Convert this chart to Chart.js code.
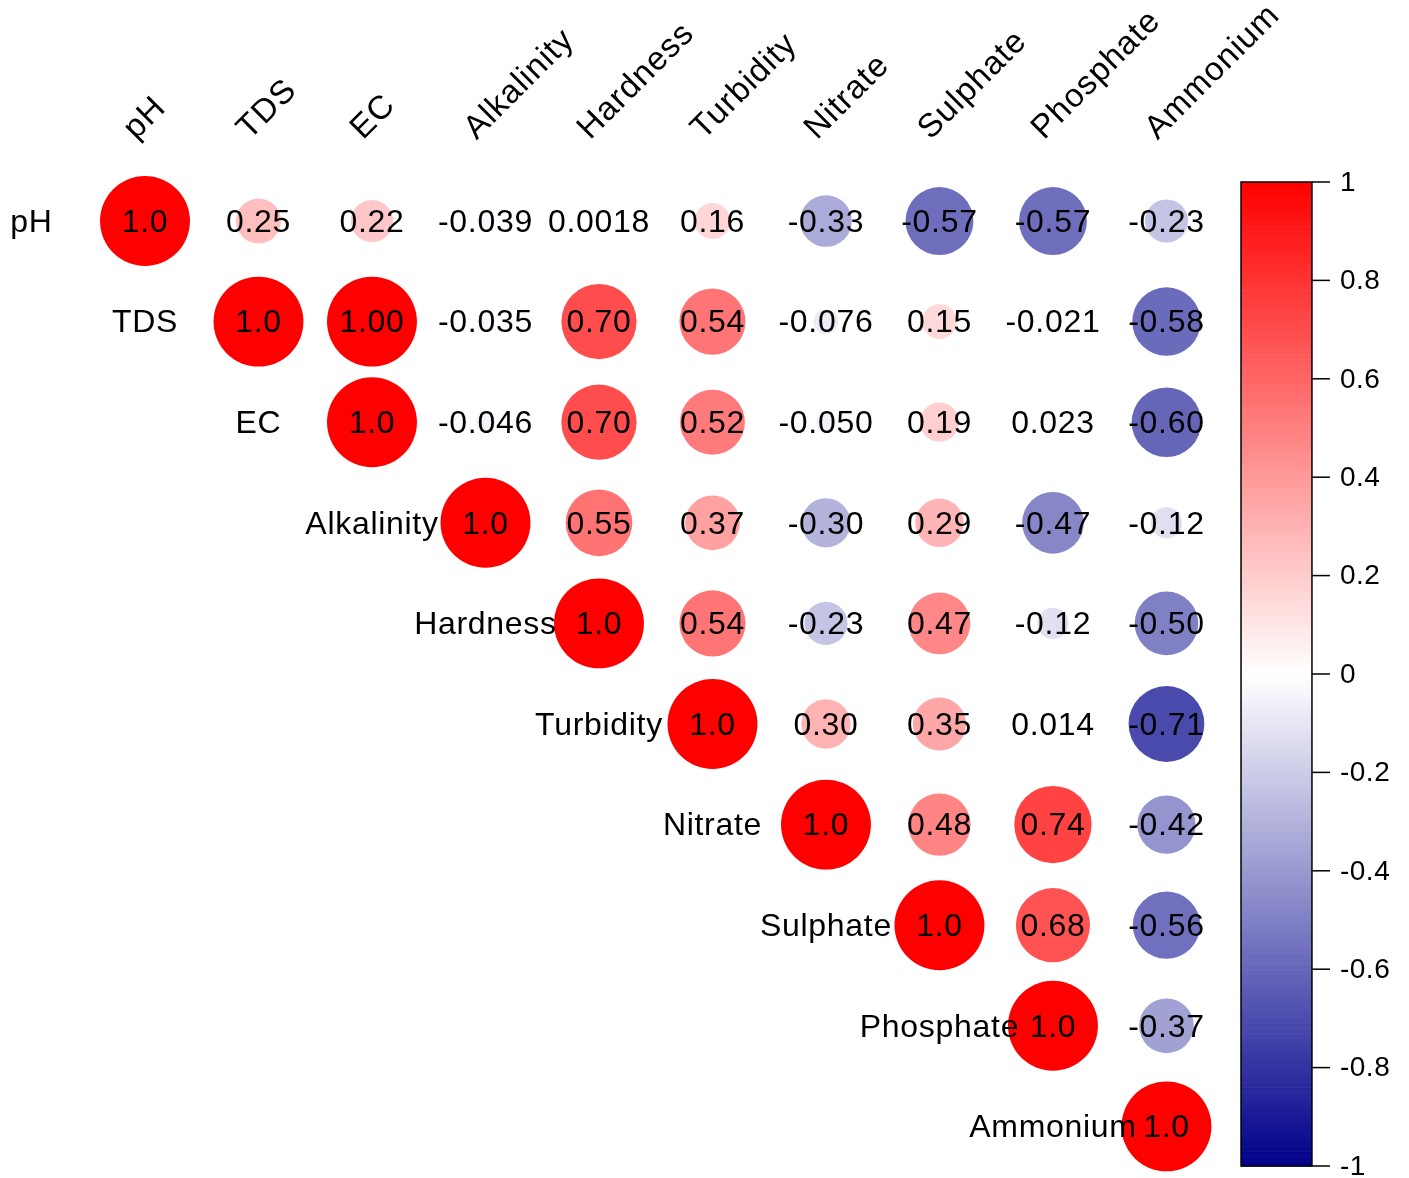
<!DOCTYPE html>
<html>
<head>
<meta charset="utf-8">
<script src="https://cdn.jsdelivr.net/npm/chart.js@4/dist/chart.umd.min.js"></script>
<style>
  html, body { margin: 0; padding: 0; background: #fff; }
  canvas { display: block; }
</style>
</head>
<body>
<canvas id="corrChart" width="1409" height="1178"></canvas>
<script>
const variables = ['pH', 'TDS', 'EC', 'Alkalinity', 'Hardness', 'Turbidity', 'Nitrate', 'Sulphate', 'Phosphate', 'Ammonium'];

// upper triangle, one row per variable, starting at the diagonal
const rowPH         = ['1.0', '0.25', '0.22', '-0.039', '0.0018', '0.16', '-0.33', '-0.57', '-0.57', '-0.23'];
const rowTDS        = ['1.0', '1.00', '-0.035', '0.70', '0.54', '-0.076', '0.15', '-0.021', '-0.58'];
const rowEC         = ['1.0', '-0.046', '0.70', '0.52', '-0.050', '0.19', '0.023', '-0.60'];
const rowAlkalinity = ['1.0', '0.55', '0.37', '-0.30', '0.29', '-0.47', '-0.12'];
const rowHardness   = ['1.0', '0.54', '-0.23', '0.47', '-0.12', '-0.50'];
const rowTurbidity  = ['1.0', '0.30', '0.35', '0.014', '-0.71'];
const rowNitrate    = ['1.0', '0.48', '0.74', '-0.42'];
const rowSulphate   = ['1.0', '0.68', '-0.56'];
const rowPhosphate  = ['1.0', '-0.37'];
const rowAmmonium   = ['1.0'];

const corrRows = [rowPH, rowTDS, rowEC, rowAlkalinity, rowHardness, rowTurbidity, rowNitrate, rowSulphate, rowPhosphate, rowAmmonium];

const colorbarTicks = ['1', '0.8', '0.6', '0.4', '0.2', '0', '-0.2', '-0.4', '-0.6', '-0.8', '-1'];

// white -> red for positive, white -> darkblue for negative
function corrColor(v) {
  const t = Math.min(1, Math.abs(v));
  if (v >= 0) {
    const g = Math.round(255 * (1 - t));
    return `rgb(255,${g},${g})`;
  }
  const rg = Math.round(255 * (1 - t));
  const b = Math.round(255 - 116 * t);
  return `rgb(${rg},${rg},${b})`;
}

const points = [];
corrRows.forEach((row, i) => {
  row.forEach((txt, k) => {
    points.push({ x: i + k, y: i, v: parseFloat(txt), label: txt });
  });
});

const FONT = '"Liberation Sans", Arial, sans-serif';

const labelsPlugin = {
  id: 'corrLabels',
  afterDatasetsDraw(chart) {
    const { ctx, scales: { x, y } } = chart;
    ctx.save();
    ctx.fillStyle = '#000';
    ctx.font = '32px ' + FONT;
    ctx.letterSpacing = '0.7px';
    ctx.textAlign = 'center';
    ctx.textBaseline = 'middle';

    // coefficient text on top of the circles
    chart.data.datasets[0].data.forEach(p => {
      ctx.fillText(p.label, x.getPixelForValue(p.x), y.getPixelForValue(p.y) + 2);
    });

    // row names sit one cell left of the diagonal
    variables.forEach((name, i) => {
      ctx.fillText(name, x.getPixelForValue(i - 1), y.getPixelForValue(i) + 2);
    });

    // column names, rotated 45 deg
    ctx.font = '33px ' + FONT;
    ctx.letterSpacing = '1px';
    ctx.textAlign = 'left';
    ctx.textBaseline = 'alphabetic';
    variables.forEach((name, j) => {
      ctx.save();
      ctx.translate(x.getPixelForValue(j) - 9, y.getPixelForValue(-0.8));
      ctx.rotate(-Math.PI / 4);
      ctx.fillText(name, 0, 0);
      ctx.restore();
    });
    ctx.restore();
  }
};

const colorbarPlugin = {
  id: 'colorbar',
  afterDraw(chart) {
    const { ctx, scales: { x, cb } } = chart;
    const left = x.getPixelForValue(9.657);
    const right = x.getPixelForValue(10.282);
    const top = cb.getPixelForValue(1);
    const bottom = cb.getPixelForValue(-1);

    ctx.save();
    const bands = 200;
    for (let k = 0; k < bands; k++) {
      const v0 = -1 + 2 * k / bands;
      const v1 = -1 + 2 * (k + 1) / bands;
      const p0 = cb.getPixelForValue(v0);
      const p1 = cb.getPixelForValue(v1);
      ctx.fillStyle = corrColor((v0 + v1) / 2);
      ctx.fillRect(left, p1, right - left, p0 - p1 + 0.6);
    }
    ctx.strokeStyle = '#000';
    ctx.lineWidth = 1.5;
    ctx.strokeRect(left, top, right - left, bottom - top);

    ctx.font = '28px ' + FONT;
    ctx.letterSpacing = '0.5px';
    ctx.fillStyle = '#000';
    ctx.textAlign = 'left';
    ctx.textBaseline = 'middle';
    colorbarTicks.forEach(lbl => {
      const py = cb.getPixelForValue(parseFloat(lbl));
      ctx.beginPath();
      ctx.moveTo(right, py);
      ctx.lineTo(right + 18, py);
      ctx.stroke();
      ctx.fillText(lbl, right + 28, py + 1);
    });
    ctx.restore();
  }
};

new Chart(document.getElementById('corrChart'), {
  type: 'scatter',
  data: {
    datasets: [{
      data: points,
      pointRadius: ctx => {
        if (!ctx.raw) return 0;
        const ys = ctx.chart.scales.y;
        const cell = Math.abs(ys.getPixelForValue(1) - ys.getPixelForValue(0));
        return 0.447 * cell * Math.sqrt(Math.abs(ctx.raw.v));
      },
      backgroundColor: ctx => ctx.raw ? corrColor(ctx.raw.v) : '#fff',
      borderWidth: 0,
      clip: false
    }]
  },
  options: {
    responsive: false,
    devicePixelRatio: 1,
    animation: false,
    events: [],
    layout: { padding: 0 },
    plugins: {
      legend: { display: false },
      tooltip: { enabled: false }
    },
    scales: {
      x: { type: 'linear', display: false, min: -1.2775, max: 11.137 },
      y: { type: 'linear', display: false, reverse: true, min: -2.197, max: 9.513 },
      cb: { type: 'linear', axis: 'y', display: false, min: -1.0244, max: 1.3699 }
    }
  },
  plugins: [labelsPlugin, colorbarPlugin]
});
</script>
</body>
</html>
